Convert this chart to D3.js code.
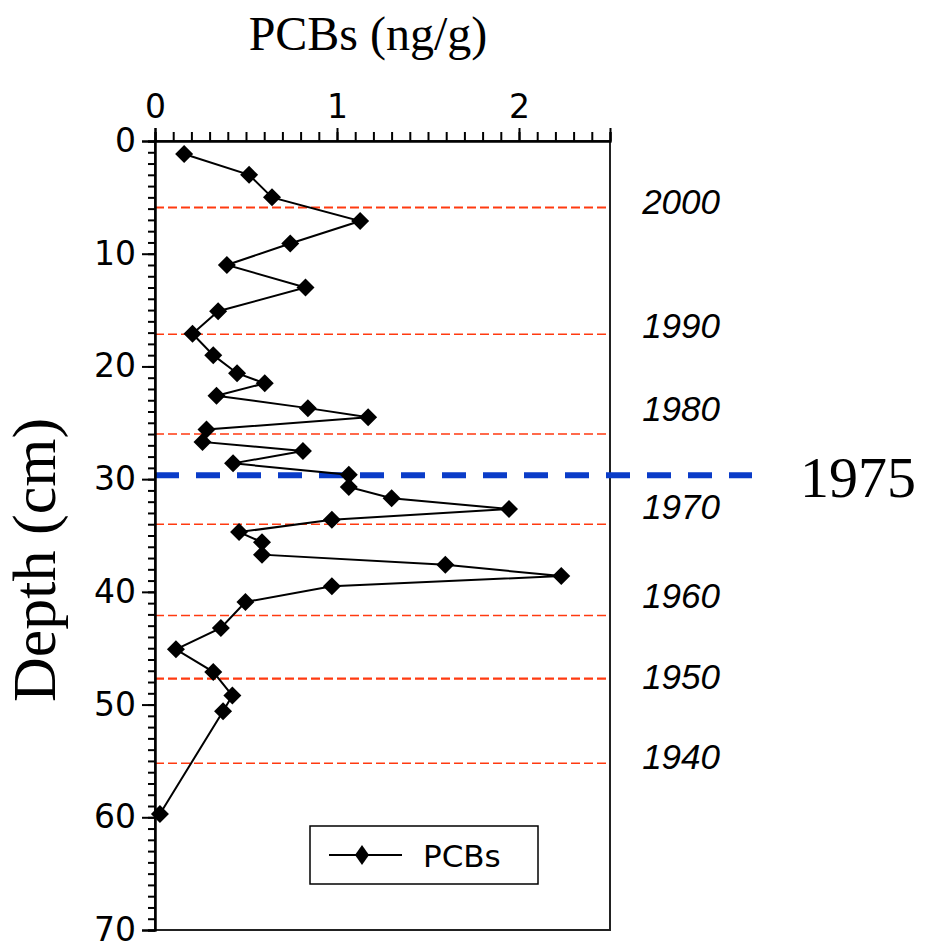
<!DOCTYPE html>
<html>
<head>
<meta charset="utf-8">
<script src="https://cdn.jsdelivr.net/npm/d3@7"></script>
<style>
  body { margin: 0; background: #fff; }
  svg { display: block; }
</style>
</head>
<body>
<div id="chart"></div>
<script>
// PCB concentration profile vs core depth
const depths = [1.15, 3.0, 5.0, 7.1, 9.1, 11.0, 13.0, 15.1, 17.1, 19.0, 20.6, 21.5, 22.6, 23.7, 24.5,
  25.6, 26.7, 27.5, 28.6, 29.6, 30.7, 31.7, 32.65, 33.6, 34.7, 35.6, 36.7, 37.6, 38.6, 39.5, 40.9,
  43.2, 45.1, 47.1, 49.2, 50.6, 59.7];
const pcbs = [0.16, 0.517, 0.643, 1.127, 0.743, 0.395, 0.827, 0.347, 0.206, 0.32, 0.451, 0.603, 0.338,
  0.84, 1.171, 0.283, 0.261, 0.813, 0.429, 1.065, 1.065, 1.30, 1.945, 0.972, 0.462, 0.588, 0.588,
  1.595, 2.232, 0.972, 0.497, 0.362, 0.115, 0.32, 0.425, 0.374, 0.027];

// dating horizons (red dashed) and their year labels
const horizonDepths = [5.9, 17.15, 26.0, 34.0, 42.1, 47.7, 55.2];
const yearLabels = ['2000', '1990', '1980', '1970', '1960', '1950', '1940'];
const yearLabelDepths = [5.4, 16.4, 23.7, 32.4, 40.3, 47.5, 54.6];

// 1975 marker
const markerDepth = 29.65;
const markerLabel = '1975';

const xTicks = [0, 1, 2];
const yTicks = [0, 10, 20, 30, 40, 50, 60, 70];

const W = 926, H = 946;
const plotLeft = 155, plotRight = 610, plotTop = 141, plotBottom = 930;

const svg = d3.select('#chart').append('svg')
  .attr('width', W).attr('height', H);

const x = d3.scaleLinear().domain([0, 2.5]).range([plotLeft, plotRight]);
const y = d3.scaleLinear().domain([0, 70]).range([plotTop, plotBottom]);

// frame
svg.append('rect')
  .attr('x', plotLeft).attr('y', plotTop)
  .attr('width', plotRight - plotLeft).attr('height', plotBottom - plotTop)
  .attr('fill', 'none').attr('stroke', '#222').attr('stroke-width', 2);

// red horizon lines
svg.append('g').selectAll('line').data(horizonDepths).enter()
  .append('line')
  .attr('x1', plotLeft).attr('x2', plotRight)
  .attr('y1', d => y(d)).attr('y2', d => y(d))
  .attr('stroke', '#ff3a10')
  .attr('stroke-width', (d, i) => (i === 0 || i === 5) ? 2.2 : 1.5)
  .attr('stroke-dasharray', '9,4');

// blue 1975 line
svg.append('line')
  .attr('x1', plotLeft).attr('x2', 752)
  .attr('y1', y(markerDepth)).attr('y2', y(markerDepth))
  .attr('stroke', '#0a3cc8').attr('stroke-width', 6)
  .attr('stroke-dasharray', '24,17');

svg.append('text')
  .attr('x', 800).attr('y', y(markerDepth) + 22)
  .attr('font-family', '"Liberation Serif", "Times New Roman", serif')
  .attr('font-size', 58)
  .text(markerLabel);

// axes
const axisFont = '"DejaVu Sans", Verdana, sans-serif';

const xMinor = d3.axisTop(x).tickValues(d3.range(0, 26).map(i => i / 10))
  .tickSize(9).tickFormat('');
const xMajor = d3.axisTop(x).tickValues(xTicks).tickSize(13).tickPadding(10)
  .tickFormat(d3.format('d'));
const yMinor = d3.axisLeft(y).tickValues(d3.range(0, 71)).tickSize(7).tickFormat('');
const yMajor = d3.axisLeft(y).tickValues(yTicks).tickSize(13).tickPadding(6)
  .tickFormat(d3.format('d'));

function styleAxis(g) {
  g.select('.domain').attr('stroke', '#000').attr('stroke-width', 2);
  g.selectAll('.tick line').attr('stroke', '#000').attr('stroke-width', 2);
  g.selectAll('.tick text')
    .attr('font-family', axisFont).attr('font-size', 33).attr('fill', '#000');
}

svg.append('g').attr('transform', `translate(0,${plotTop})`).call(xMinor).call(styleAxis);
svg.append('g').attr('transform', `translate(0,${plotTop})`).call(xMajor).call(styleAxis);
svg.append('g').attr('transform', `translate(${plotLeft},0)`).call(yMinor).call(styleAxis);
svg.append('g').attr('transform', `translate(${plotLeft},0)`).call(yMajor).call(styleAxis);

// axis titles
svg.append('text')
  .attr('x', 368).attr('y', 50)
  .attr('text-anchor', 'middle')
  .attr('font-family', '"Liberation Serif", "Times New Roman", serif')
  .attr('font-size', 48)
  .text('PCBs (ng/g)');

svg.append('text')
  .attr('transform', 'translate(55,560) rotate(-90)')
  .attr('text-anchor', 'middle')
  .attr('font-family', '"Liberation Serif", "Times New Roman", serif')
  .attr('font-size', 62)
  .text('Depth (cm)');

// year labels
svg.append('g').selectAll('text').data(yearLabels).enter()
  .append('text')
  .attr('x', 720)
  .attr('y', (d, i) => y(yearLabelDepths[i]))
  .attr('dy', '0.36em')
  .attr('text-anchor', 'end')
  .attr('font-family', '"Liberation Sans", Arial, sans-serif')
  .attr('font-style', 'italic')
  .attr('font-size', 35)
  .text(d => d);

// data line + diamonds
const pts = depths.map((d, i) => ({ depth: d, value: pcbs[i] }));

const line = d3.line()
  .x(d => x(d.value))
  .y(d => y(d.depth));

svg.append('path')
  .datum(pts)
  .attr('d', line)
  .attr('fill', 'none')
  .attr('stroke', '#000')
  .attr('stroke-width', 2);

const diamond = 'M0,-9L9,0L0,9L-9,0Z';
svg.append('g').selectAll('path').data(pts).enter()
  .append('path')
  .attr('transform', d => `translate(${x(d.value)},${y(d.depth)})`)
  .attr('d', diamond)
  .attr('fill', '#000');

// legend
const lg = svg.append('g').attr('transform', 'translate(310,826)');
lg.append('rect')
  .attr('width', 228).attr('height', 58)
  .attr('fill', '#fff').attr('stroke', '#000').attr('stroke-width', 1.5);
lg.append('line')
  .attr('x1', 19).attr('x2', 92).attr('y1', 29).attr('y2', 29)
  .attr('stroke', '#000').attr('stroke-width', 2);
lg.append('path')
  .attr('transform', 'translate(52,29)')
  .attr('d', 'M0,-10L7,0L0,10L-7,0Z')
  .attr('fill', '#000');
lg.append('text')
  .attr('x', 113).attr('y', 41)
  .attr('font-family', axisFont)
  .attr('font-size', 31)
  .text('PCBs');
</script>
</body>
</html>
